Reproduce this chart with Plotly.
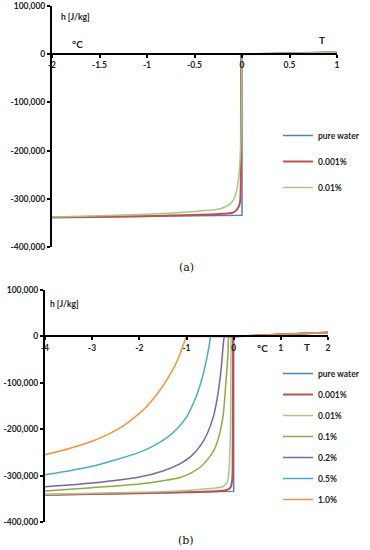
import plotly.graph_objects as go

W, H = 370, 550

# ---------------- data: chart (a) ----------------
a_names = ["pure water", "0.001%", "0.01%"]
a_pure_T = [-2, 0, 0, 1]
a_pure_h = [-338500, -334000, 0, 4200]
a_p001_T = [-2, -1, -0.5, -0.2, -0.1, -0.06, -0.04, -0.028, -0.018, -0.013, -0.011, -0.01, 1]
a_p001_h = [-339000, -336000, -333500, -331000, -329000, -324000, -318000, -313000, -303000, -270000, -150000, 0, 4200]
a_p01_T = [-2, -1.5, -1, -0.54, -0.43, -0.3, -0.22, -0.16, -0.116, -0.085, -0.063, -0.045,
           -0.035, -0.025, -0.018, -0.012, -0.008, -0.006, -0.005, 1]
a_p01_h = [-337500, -335000, -332000, -327000, -325000, -323000, -320000, -315000, -309000, -300000,
           -288000, -270000, -255000, -235000, -213000, -185000, -140000, -80000, 0, 4200]

# ---------------- data: chart (b) ----------------
b_names = ["pure water", "0.001%", "0.01%", "0.1%", "0.2%", "0.5%", "1.0%"]
b_pure_T = [-4, 0, 0, 2]
b_pure_h = [-342000, -334000, 0, 8400]
b_p001_T = [-4, -2, -1, -0.5, -0.2, -0.1, -0.06, -0.04, -0.025, -0.018, -0.012, 2]
b_p001_h = [-341500, -338000, -336000, -334500, -332000, -329000, -324000, -316000, -300000, -200000, 0, 8400]
b_p01_T = [-4, -3, -2, -1, -0.5, -0.25, -0.14, -0.11, -0.09, -0.075, -0.065, -0.055, 0, 2]
b_p01_h = [-340500, -338000, -336000, -332000, -328000, -324600, -315000, -302000, -272000, -237000,
           -180000, 0, 0, 8400]
b_p1_T = [-4, -3, -2, -1.5, -1.13, -0.9, -0.71, -0.55, -0.43, -0.31, -0.22, -0.16, -0.12, -0.11, 0, 2]
b_p1_h = [-333000, -326000, -318000, -311000, -304000, -294000, -282000, -265000, -248000, -215000,
          -167000, -93000, -35000, 0, 0, 8400]
b_p2_T = [-4, -3, -2, -1.5, -1.13, -0.9, -0.7, -0.55, -0.43, -0.35, -0.29, -0.25, -0.22, -0.2, 0, 2]
b_p2_h = [-324000, -316000, -303000, -290000, -274000, -258000, -235000, -207000, -173000, -134000,
          -92000, -53000, -16000, 0, 0, 8400]
b_p5_T = [-4, -3.5, -3, -2.5, -2, -1.7, -1.4, -1.2, -1, -0.85, -0.75, -0.65, -0.58, -0.53, -0.49, 0, 2]
b_p5_h = [-298000, -290000, -280000, -266000, -250000, -236000, -217000, -199000, -174000, -143000,
          -117000, -83000, -52000, -26000, 0, 0, 8400]
b_p10_T = [-4, -3.5, -3, -2.6, -2.3, -2, -1.8, -1.6, -1.4, -1.25, -1.15, -1.08, -1.03, -1.0, 0, 2]
b_p10_h = [-255000, -242000, -226000, -208000, -190000, -166000, -146000, -121000, -91000, -64000,
           -41000, -22000, -8000, 0, 0, 8400]

# tick labels
y_vals = [100000, 0, -100000, -200000, -300000, -400000]
y_text = ["100,000", "0", "-100,000", "-200,000", "-300,000", "-400,000"]
a_x_vals = [-2, -1.5, -1, -0.5, 0, 0.5, 1]
a_x_text = ["-2", "-1.5", "-1", "-0.5", "0", "0.5", "1"]
b_x_vals = [-4, -3, -2, -1, 0, 1, 2]
b_x_text = ["-4", "-3", "-2", "-1", "0", "1", "2"]

colors = ["#4F81BD", "#C0504D", "#A9C68A", "#8AAB45", "#7E62A3", "#4BACC6", "#F5923E"]
widths = [1.5, 2, 1.5, 1.5, 1.5, 1.5, 1.5]

fig = go.Figure()


def add_series(t, h, i, name, xa, ya, leg, grp):
    if i == 0:
        fig.add_trace(go.Scatter(x=t, y=h, mode="lines", name=name,
                                 line=dict(color=colors[i], width=widths[i]),
                                 xaxis=xa, yaxis=ya, legend=leg, legendgroup=grp))
        return
    k = h.index(0)
    # frozen (curved) part, smoothed
    fig.add_trace(go.Scatter(x=t[:k + 1], y=h[:k + 1], mode="lines", name=name,
                             line=dict(color=colors[i], width=widths[i], shape="spline", smoothing=0.6),
                             xaxis=xa, yaxis=ya, legend=leg, legendgroup=grp))
    # liquid part, straight
    fig.add_trace(go.Scatter(x=t[k:], y=h[k:], mode="lines", name=name, showlegend=False,
                             line=dict(color=colors[i], width=widths[i]),
                             xaxis=xa, yaxis=ya, legend=leg, legendgroup=grp))


a_series = [(a_pure_T, a_pure_h), (a_p001_T, a_p001_h), (a_p01_T, a_p01_h)]
for i, (t, h) in enumerate(a_series):
    add_series(t, h, i, a_names[i], "x", "y", "legend", "a%d" % i)

b_series = [(b_pure_T, b_pure_h), (b_p001_T, b_p001_h), (b_p01_T, b_p01_h), (b_p1_T, b_p1_h),
            (b_p2_T, b_p2_h), (b_p5_T, b_p5_h), (b_p10_T, b_p10_h)]
for i, (t, h) in enumerate(b_series):
    add_series(t, h, i, b_names[i], "x2", "y2", "legend2", "b%d" % i)


def px_x(x):
    return x / W


def px_y(y):
    return 1 - y / H


# domains (pixels)
a_dx = [px_x(52), px_x(337)]
a_dy = [px_y(247), px_y(6)]
b_dx = [px_x(45), px_x(328)]
b_dy = [px_y(522), px_y(290)]

yr = [-400000, 100000]
a_zero = a_dy[0] + (0 - yr[0]) / (yr[1] - yr[0]) * (a_dy[1] - a_dy[0])
b_zero = b_dy[0] + (0 - yr[0]) / (yr[1] - yr[0]) * (b_dy[1] - b_dy[0])

tickfont = dict(family="Lato, Carlito, Open Sans, sans-serif", size=8.5, color="#222", weight="bold")
axis_common = dict(showgrid=False, zeroline=False, showline=True, linecolor="black",
                   linewidth=2, ticks="outside", ticklen=3, tickwidth=1.5, tickcolor="black",
                   tickfont=tickfont, fixedrange=True, automargin=False)

legfont = dict(family="Lato, sans-serif", size=8.5, color="#222", weight="bold")
fig.update_layout(
    width=W, height=H, margin=dict(l=0, r=0, t=0, b=0, pad=0, autoexpand=False),
    paper_bgcolor="white", plot_bgcolor="white", hovermode=False,
    xaxis=dict(domain=a_dx, range=[-2, 1], anchor="free", position=a_zero,
               tickvals=a_x_vals, ticktext=a_x_text, **axis_common),
    yaxis=dict(domain=a_dy, range=yr, anchor="x",
               tickvals=y_vals, ticktext=y_text, **axis_common),
    xaxis2=dict(domain=b_dx, range=[-4, 2], anchor="free", position=b_zero,
                tickvals=b_x_vals, ticktext=b_x_text, **axis_common),
    yaxis2=dict(domain=b_dy, range=yr, anchor="x2",
                tickvals=y_vals, ticktext=y_text, **axis_common),
    legend=dict(x=px_x(278), y=px_y(121), xanchor="left", yanchor="top",
                font=legfont, tracegroupgap=7, bgcolor="rgba(0,0,0,0)"),
    legend2=dict(x=px_x(278), y=px_y(359), xanchor="left", yanchor="top",
                 font=legfont, tracegroupgap=2, bgcolor="rgba(0,0,0,0)"),
    showlegend=True,
)

lab = dict(family="Lato, sans-serif", color="#222", weight="bold")
ann = [
    ("h [J/kg]", 59, 17, 8.5, "left"),
    ("°C", 70, 44, 10, "left"),
    ("T", 322, 40, 10, "center"),
    ("h [J/kg]", 48, 304, 8.5, "left"),
    ("°C", 255, 348, 10, "left"),
    ("T", 307, 347, 10, "center"),
]
for text, x, y, s, xa in ann:
    fig.add_annotation(text=text, xref="paper", yref="paper", x=px_x(x), y=px_y(y),
                       xanchor=xa, yanchor="middle", showarrow=False,
                       font=dict(size=s, **lab))
for text, y in [("(a)", 267), ("(b)", 540)]:
    fig.add_annotation(text=text, xref="paper", yref="paper", x=px_x(186), y=px_y(y),
                       xanchor="center", yanchor="middle", showarrow=False,
                       font=dict(family="Palatino Linotype, DejaVu Serif, serif", size=11, color="#111"))

fig.write_html("out.html", config={"displayModeBar": False, "staticPlot": False},
               post_script="document.body.style.margin='0';document.body.style.overflow='hidden';")
